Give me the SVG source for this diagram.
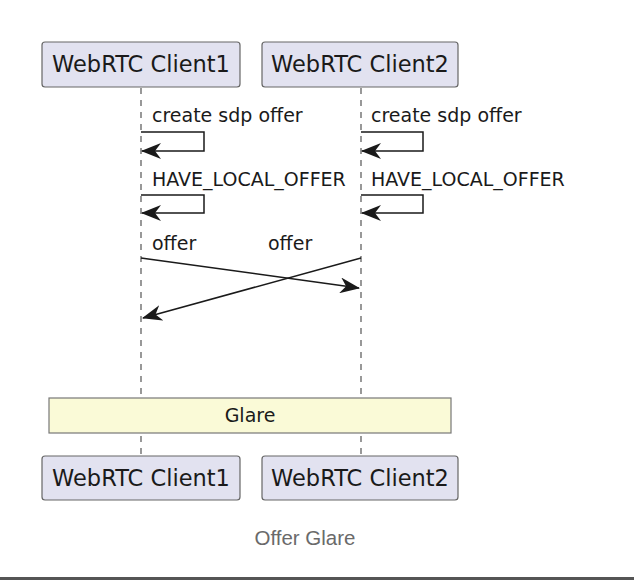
<svg xmlns="http://www.w3.org/2000/svg" width="634" height="580" viewBox="0 0 634 580">
<defs>
<style>
.p{fill:#E2E2F0;stroke:#666;stroke-width:1.2}
.pt{font-family:"DejaVu Sans",sans-serif;font-size:22.5px;fill:#1a1a1a;text-anchor:middle}
.m{font-family:"DejaVu Sans",sans-serif;font-size:19px;fill:#1a1a1a}
.ll{stroke:#555;stroke-width:1.2;stroke-dasharray:6,6;fill:none}
.ln{stroke:#1a1a1a;stroke-width:1.5;fill:none}
</style>
<marker id="ah" viewBox="0 0 20 16" refX="19" refY="8" markerWidth="20" markerHeight="16" markerUnits="userSpaceOnUse" orient="auto">
<path d="M0,0 L20,8 L0,16 L6,8 Z" fill="#1a1a1a"/>
</marker>
</defs>
<rect width="634" height="580" fill="#fff"/>
<g id="lifelines">
<line class="ll" x1="141" y1="88" x2="141" y2="456"/>
<line class="ll" x1="361" y1="88" x2="361" y2="456"/>
</g>
<g id="client1-top"><rect class="p" x="42" y="42" width="198" height="45" rx="3"/><text class="pt" x="141" y="72">WebRTC Client1</text></g>
<g id="client2-top"><rect class="p" x="262" y="42" width="196" height="45" rx="3"/><text class="pt" x="360" y="72">WebRTC Client2</text></g>
<g id="connectors">
<text class="m" x="152" y="122">create sdp offer</text>
<polyline class="ln" points="141,132 204,132 204,151 142,151" marker-end="url(#ah)"/>
<text class="m" x="371" y="122">create sdp offer</text>
<polyline class="ln" points="361,132 423,132 423,151 362,151" marker-end="url(#ah)"/>
<text class="m" x="152" y="186">HAVE_LOCAL_OFFER</text>
<polyline class="ln" points="141,195 204,195 204,213 142,213" marker-end="url(#ah)"/>
<text class="m" x="371" y="186">HAVE_LOCAL_OFFER</text>
<polyline class="ln" points="361,195 423,195 423,213 362,213" marker-end="url(#ah)"/>
<text class="m" x="152" y="250">offer</text>
<line class="ln" x1="141" y1="258" x2="359" y2="288" marker-end="url(#ah)"/>
<text class="m" x="268" y="250">offer</text>
<line class="ln" x1="361" y1="258" x2="143" y2="318" marker-end="url(#ah)"/>
</g>
<g id="glare"><rect x="49" y="398" width="402" height="35" fill="#FAFAD7" stroke="#777" stroke-width="1.2"/><text class="m" x="250" y="422" text-anchor="middle">Glare</text></g>
<g id="client1-bottom"><rect class="p" x="42" y="456" width="198" height="44" rx="3"/><text class="pt" x="141" y="486">WebRTC Client1</text></g>
<g id="client2-bottom"><rect class="p" x="262" y="456" width="196" height="44" rx="3"/><text class="pt" x="360" y="486">WebRTC Client2</text></g>
<text x="305" y="545" text-anchor="middle" font-family="Liberation Sans, Arial, sans-serif" font-size="20.5px" fill="#6a6a6a">Offer Glare</text>
<rect x="0" y="577" width="634" height="3" fill="#555"/>
</svg>
